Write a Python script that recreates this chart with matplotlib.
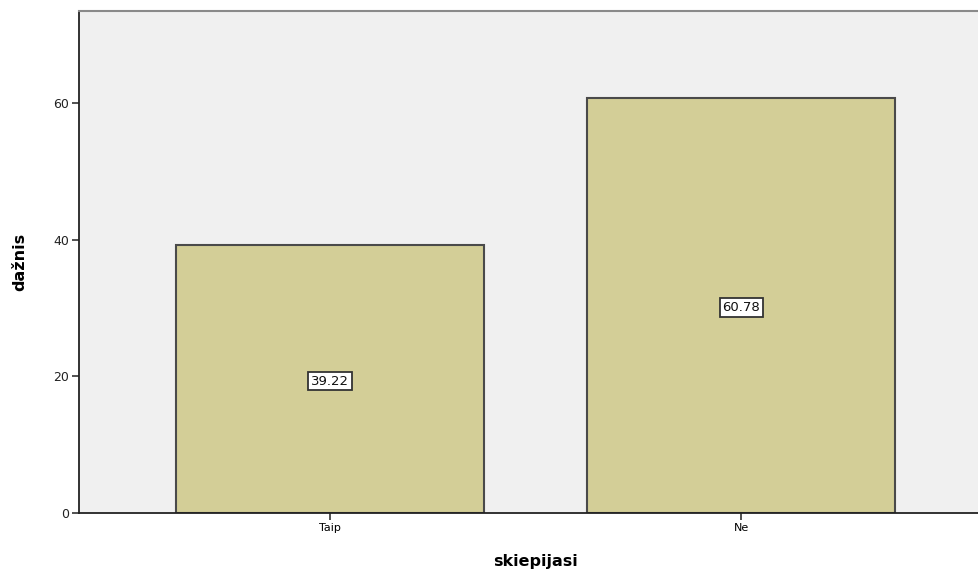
import matplotlib
matplotlib.use("Agg")
import matplotlib.pyplot as plt

categories = ["Taip", "Ne"]
values = [39.22, 60.78]
yticks = [0, 20, 40, 60]

W, H = 979, 569
fig = plt.figure(figsize=(W / 100, H / 100), dpi=100)
left, right, top, bottom = 79, 992, 11, 513
ax = fig.add_axes([left / W, 1 - bottom / H, (right - left) / W, (bottom - top) / H])
ax.set_facecolor("#F0F0F0")

x = list(range(len(categories)))
ax.bar(x, values, width=0.75, color="#D3CE97", edgecolor="#4a4a4a", linewidth=1.5, zorder=2)
for xi, v in zip(x, values):
    ax.text(xi, v / 2 - 0.3, f"{v:.2f}", ha="center", va="center", fontsize=9.5,
            family="DejaVu Sans", color="#111111", zorder=3,
            bbox=dict(boxstyle="square,pad=0.2", facecolor="white", edgecolor="#333333", linewidth=1.3))

ax.set_xlim(-0.61, 1.61)
ax.set_ylim(0, 73.5)
ax.set_xticks(x)
ax.set_xticklabels(categories, fontsize=8)
ax.set_yticks(yticks)
ax.set_yticklabels([str(t) for t in yticks], fontsize=9, color="#222222")
ax.tick_params(axis="y", length=5, width=1.2, color="#333333", pad=2)
ax.tick_params(axis="x", length=5, width=1.2, color="#333333", pad=2)

for s in ["left", "bottom"]:
    ax.spines[s].set_color("#222222")
    ax.spines[s].set_linewidth(1.3)
ax.spines["top"].set_color("#8a8a8a")
ax.spines["top"].set_linewidth(1.5)
ax.spines["right"].set_visible(False)

ax.set_xlabel("skiepijasi", fontsize=11.5, fontweight="bold", labelpad=15)
ax.set_ylabel("dažnis", fontsize=11.5, fontweight="bold", labelpad=19)

fig.savefig("out.png", dpi=100)
